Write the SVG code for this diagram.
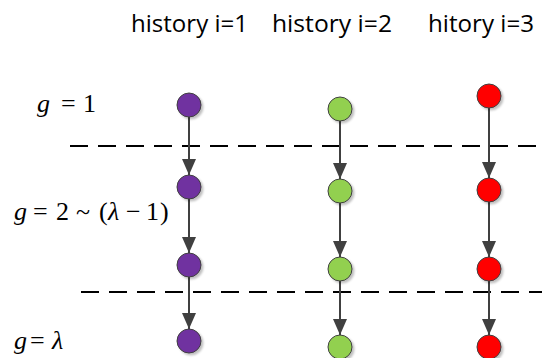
<svg xmlns="http://www.w3.org/2000/svg" width="542" height="358" viewBox="0 0 542 358">
<defs>
<style>
.hdr{font-family:"Open Sans","Liberation Sans",sans-serif;font-size:23px;fill:#000}
.m{font-family:"Liberation Serif","Times New Roman",serif;font-size:26px;fill:#000}
.mi{font-style:italic}
.dash{stroke:#000;stroke-width:2;stroke-dasharray:18 10;fill:none}
.conn{stroke:#404040;stroke-width:2;fill:none;marker-end:url(#ah)}
.n{stroke:#404040;stroke-width:1;filter:url(#sh)}
.p{fill:#7030A0}
.g{fill:#92D050}
.r{fill:#FF0000}
</style>
<marker id="ah" markerWidth="16" markerHeight="14" refX="16" refY="7" orient="auto" markerUnits="userSpaceOnUse" viewBox="0 0 16 14">
<path d="M0,0 L16,7 L0,14 Z" fill="#404040"/>
</marker>
<filter id="sh" x="-50%" y="-50%" width="200%" height="200%">
<feDropShadow dx="2" dy="2" stdDeviation="1.2" flood-color="#000" flood-opacity="0.25"/>
</filter>
</defs>
<g id="headers">
<text class="hdr" x="131" y="32" textLength="117" lengthAdjust="spacingAndGlyphs">history i=1</text>
<text class="hdr" x="272" y="32" textLength="120" lengthAdjust="spacingAndGlyphs">history i=2</text>
<text class="hdr" x="428" y="32" textLength="106" lengthAdjust="spacingAndGlyphs">hitory i=3</text>
</g>
<g id="labels">
<text class="m" x="37" y="112"><tspan class="mi">g</tspan><tspan x="61">=</tspan><tspan x="83">1</tspan></text>
<text class="m" x="14" y="220"><tspan class="mi">g</tspan><tspan x="33">=</tspan><tspan x="56">2</tspan><tspan x="76">~</tspan><tspan x="99">(</tspan><tspan class="mi" x="108">λ</tspan><tspan x="126">−</tspan><tspan x="146">1</tspan><tspan x="160">)</tspan></text>
<text class="m" x="14" y="349"><tspan class="mi">g</tspan><tspan x="30">=</tspan><tspan class="mi" x="52">λ</tspan></text>
</g>
<g id="separators">
<line class="dash" x1="70" y1="146" x2="542" y2="146"/>
<line class="dash" x1="81" y1="292" x2="542" y2="292"/>
</g>
<g id="connectors">
<line class="conn" x1="189" y1="117" x2="189" y2="175"/>
<line class="conn" x1="189" y1="199" x2="189" y2="253"/>
<line class="conn" x1="189" y1="277" x2="189" y2="329"/>
<line class="conn" x1="340" y1="121" x2="340" y2="179"/>
<line class="conn" x1="340" y1="203" x2="340" y2="257"/>
<line class="conn" x1="340" y1="281" x2="340" y2="335"/>
<line class="conn" x1="489" y1="108" x2="489" y2="178"/>
<line class="conn" x1="489" y1="202" x2="489" y2="257"/>
<line class="conn" x1="489" y1="281" x2="489" y2="335"/>
</g>
<g id="n-p1"><circle class="n p" cx="189" cy="105" r="12"/></g>
<g id="n-p2"><circle class="n p" cx="189" cy="187" r="12"/></g>
<g id="n-p3"><circle class="n p" cx="189" cy="265" r="12"/></g>
<g id="n-p4"><circle class="n p" cx="189" cy="341" r="12"/></g>
<g id="n-g1"><circle class="n g" cx="340" cy="109" r="12"/></g>
<g id="n-g2"><circle class="n g" cx="340" cy="191" r="12"/></g>
<g id="n-g3"><circle class="n g" cx="340" cy="269" r="12"/></g>
<g id="n-g4"><circle class="n g" cx="340" cy="347" r="12"/></g>
<g id="n-r1"><circle class="n r" cx="489" cy="96" r="12"/></g>
<g id="n-r2"><circle class="n r" cx="489" cy="190" r="12"/></g>
<g id="n-r3"><circle class="n r" cx="489" cy="269" r="12"/></g>
<g id="n-r4"><circle class="n r" cx="489" cy="347" r="12"/></g>
</svg>
